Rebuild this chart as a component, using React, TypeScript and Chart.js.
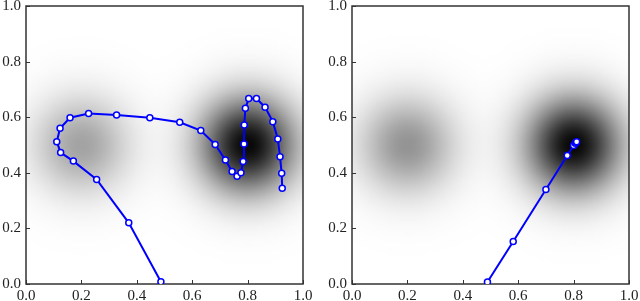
import React, { useEffect, useRef } from "react";
import { Chart, registerables } from "chart.js";
Chart.register(...registerables);

// ---------- data ----------
const TICK_VALUES = [0, 0.2, 0.4, 0.6, 0.8, 1.0];
const TICK_LABELS = ["0.0", "0.2", "0.4", "0.6", "0.8", "1.0"];

// left panel trajectory (in path order)
const leftPathX = [0.487, 0.371, 0.255, 0.171, 0.125, 0.111, 0.123, 0.159, 0.226, 0.327, 0.447, 0.555, 0.631, 0.683, 0.72, 0.744, 0.762, 0.776, 0.784, 0.787, 0.788, 0.792, 0.804, 0.832, 0.863, 0.891, 0.909, 0.917, 0.923, 0.925];
const leftPathY = [0.008, 0.22, 0.376, 0.442, 0.473, 0.512, 0.56, 0.598, 0.613, 0.608, 0.598, 0.582, 0.552, 0.502, 0.446, 0.405, 0.388, 0.4, 0.441, 0.504, 0.572, 0.632, 0.667, 0.667, 0.636, 0.584, 0.522, 0.458, 0.398, 0.344];

// right panel trajectory
const rightPathX = [0.489, 0.582, 0.70, 0.777, 0.800, 0.806, 0.809, 0.811];
const rightPathY = [0.007, 0.153, 0.340, 0.462, 0.498, 0.506, 0.510, 0.512];

// density background: two gaussian blobs
const blobCenterX = [0.2, 0.8];
const blobCenterY = [0.5, 0.5];
const leftPanelStrength = [0.36, 0.97];
const rightPanelStrength = [0.42, 0.97];
const BLOB_SIGMA = 0.12;

const FONT = { family: "Liberation Serif", size: 15 };
const FRAME_COLOR = "#333333";
const LINE_COLOR = "#0000ff";

function makeDensityPlugin(strength: number[]) {
  return {
    id: "density",
    beforeDatasetsDraw(chart: any) {
      const { ctx, chartArea, scales } = chart;
      const N = 110;
      const off = document.createElement("canvas");
      off.width = N;
      off.height = N;
      const octx = off.getContext("2d")!;
      const img = octx.createImageData(N, N);
      for (let j = 0; j < N; j++) {
        const y = 1 - (j + 0.5) / N;
        for (let i = 0; i < N; i++) {
          const x = (i + 0.5) / N;
          let v = 0;
          for (let k = 0; k < blobCenterX.length; k++) {
            const dx = x - blobCenterX[k];
            const dy = y - blobCenterY[k];
            v += strength[k] * Math.exp(-(dx * dx + dy * dy) / (2 * BLOB_SIGMA * BLOB_SIGMA));
          }
          v = Math.min(1, v);
          const g = Math.round(255 * (1 - v));
          const p = (j * N + i) * 4;
          img.data[p] = g;
          img.data[p + 1] = g;
          img.data[p + 2] = g;
          img.data[p + 3] = 255;
        }
      }
      octx.putImageData(img, 0, 0);
      const x0 = scales.x.getPixelForValue(0);
      const x1 = scales.x.getPixelForValue(1);
      const y0 = scales.y.getPixelForValue(1);
      const y1 = scales.y.getPixelForValue(0);
      ctx.save();
      ctx.imageSmoothingEnabled = true;
      ctx.drawImage(off, x0, y0, x1 - x0, y1 - y0);
      // frame
      ctx.strokeStyle = FRAME_COLOR;
      ctx.lineWidth = 1.5;
      ctx.strokeRect(chartArea.left, chartArea.top, chartArea.right - chartArea.left, chartArea.bottom - chartArea.top);
      // inward ticks
      ctx.lineWidth = 1;
      ctx.beginPath();
      for (const v of TICK_VALUES) {
        const px = Math.round(scales.x.getPixelForValue(v)) + 0.5;
        ctx.moveTo(px, chartArea.bottom);
        ctx.lineTo(px, chartArea.bottom - 4);
        const py = Math.round(scales.y.getPixelForValue(v)) + 0.5;
        ctx.moveTo(chartArea.left, py);
        ctx.lineTo(chartArea.left + 4, py);
      }
      ctx.stroke();
      ctx.restore();
    },
  };
}

function makeConfig(xs: number[], ys: number[], strength: number[], yAxisWidth: number, padRight: number): any {
  const points = xs.map((x, i) => ({ x, y: ys[i] }));
  const tickSetup = (scale: any) => {
    scale.ticks = TICK_VALUES.map((v) => ({ value: v }));
  };
  return {
    type: "scatter",
    data: {
      datasets: [
        {
          data: points,
          showLine: true,
          borderColor: LINE_COLOR,
          borderWidth: 2,
          pointRadius: 3,
          pointBorderWidth: 1.5,
          pointBackgroundColor: "#ffffff",
          pointBorderColor: LINE_COLOR,
          tension: 0,
        },
      ],
    },
    options: {
      responsive: false,
      animation: false,
      devicePixelRatio: 1,
      layout: { padding: { top: 6, right: padRight, left: 0, bottom: 0 } },
      plugins: { legend: { display: false }, tooltip: { enabled: false } },
      scales: {
        x: {
          type: "linear",
          min: 0,
          max: 1,
          grid: { display: false, drawTicks: false },
          border: { display: false },
          afterBuildTicks: tickSetup,
          ticks: {
            autoSkip: false,
            maxRotation: 0,
            padding: 3,
            color: "#222",
            font: FONT,
            callback: (_v: any, i: number) => TICK_LABELS[i],
          },
          afterFit: (s: any) => {
            s.height = 17;
            s.paddingLeft = 0;
            s.paddingRight = 0;
          },
        },
        y: {
          type: "linear",
          min: 0,
          max: 1,
          grid: { display: false, drawTicks: false },
          border: { display: false },
          afterBuildTicks: tickSetup,
          ticks: {
            autoSkip: false,
            padding: 5,
            color: "#222",
            font: FONT,
            callback: (_v: any, i: number) => TICK_LABELS[i],
          },
          afterFit: (s: any) => {
            s.width = yAxisWidth;
            s.paddingTop = 0;
            s.paddingBottom = 0;
          },
        },
      },
    },
    plugins: [makeDensityPlugin(strength)],
  };
}

function Panel(props: { xs: number[]; ys: number[]; strength: number[]; yAxisWidth: number; padRight: number; left: number }) {
  const ref = useRef<HTMLCanvasElement>(null);
  useEffect(() => {
    const chart = new Chart(ref.current!, makeConfig(props.xs, props.ys, props.strength, props.yAxisWidth, props.padRight));
    return () => chart.destroy();
  }, []);
  return (
    <canvas
      ref={ref}
      width={320}
      height={301}
      style={{ position: "absolute", left: props.left, top: 0, width: 320, height: 301 }}
    />
  );
}

export default function App() {
  return (
    <div style={{ position: "absolute", left: 0, top: 0, width: 640, height: 301, background: "#ffffff" }}>
      <Panel xs={leftPathX} ys={leftPathY} strength={leftPanelStrength} yAxisWidth={26} padRight={17} left={0} />
      <Panel xs={rightPathX} ys={rightPathY} strength={rightPanelStrength} yAxisWidth={32} padRight={11} left={320} />
    </div>
  );
}
